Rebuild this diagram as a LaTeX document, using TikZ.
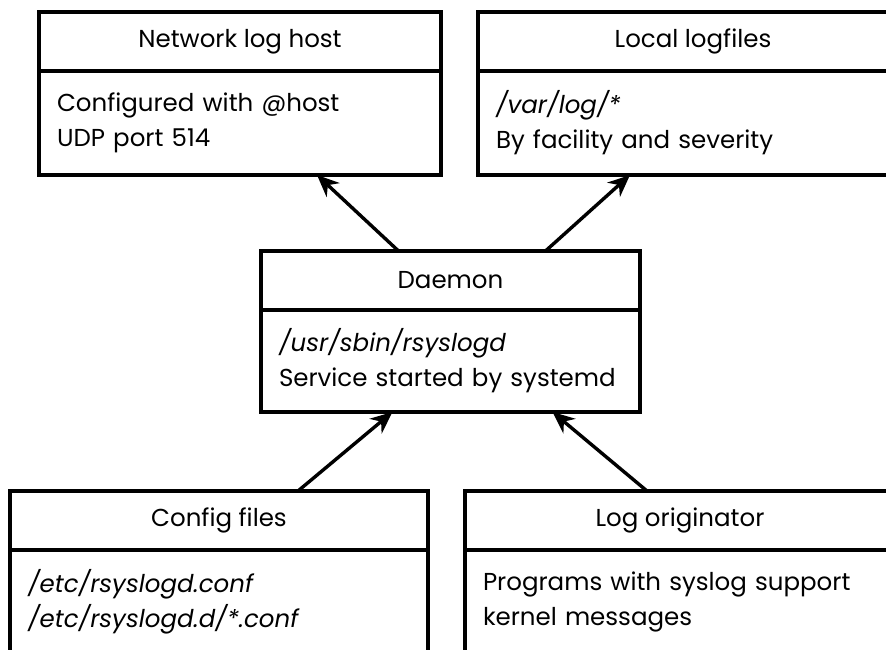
\documentclass[tikz,border=0pt]{standalone}
\usepackage{fontspec}
\setmainfont{Poppins}
\usetikzlibrary{arrows.meta,positioning}

\begin{document}
\begin{tikzpicture}[x=1pt,y=-1pt,>={Stealth[length=22pt,width=19pt]},line width=3.4pt]
\tikzstyle{head}=[draw=black,rectangle,outer sep=0pt,minimum height=59pt,font=\fontsize{24.5}{35}\selectfont]
\tikzstyle{body}=[draw=black,rectangle,outer sep=0pt,minimum height=104pt,inner xsep=18pt,align=left,font=\fontsize{24.5}{35}\selectfont]
\useasboundingbox (0,0) rectangle (886,650);
% top row
\node[head,minimum width=402pt,anchor=north west] (neth) at (39,12) {Network log host};
\node[body,minimum width=402pt,text width=366pt] (netb) [below=0pt of neth] {Configured with @host\\UDP port 514};
\node[head,minimum width=430pt,anchor=north west] (loch) at (478,12) {Local logfiles};
\node[body,minimum width=430pt,text width=394pt] (locb) [below=0pt of loch] {\textit{/var/log/*}\\By facility and severity};
% daemon
\node[head,minimum width=379pt,anchor=north west] (daeh) at (261,251) {Daemon};
\node[body,minimum width=379pt,text width=343pt,minimum height=102pt] (daeb) [below=0pt of daeh] {\textit{/usr/sbin/rsyslogd}\\Service started by systemd};
% bottom row
\node[head,minimum width=418pt,anchor=north west] (cfgh) at (10,491) {Config files};
\node[body,minimum width=418pt,text width=382pt] (cfgb) [below=0pt of cfgh] {\textit{/etc/rsyslogd.conf}\\\textit{/etc/rsyslogd.d/*.conf}};
\node[head,minimum width=430pt,anchor=north west] (orih) at (465,491) {Log originator};
\node[body,minimum width=430pt,text width=394pt] (orib) [below=0pt of orih] {Programs with syslog support\\kernel messages};
% arrows
\draw[->] ([xshift=-52pt]daeh.north) -- ([xshift=77pt]netb.south);
\draw[->] ([xshift=95pt]daeh.north) -- ([xshift=-63pt]locb.south);
\draw[->] ([xshift=79pt]cfgh.north) -- ([xshift=-58pt]daeb.south);
\draw[->] ([xshift=-33pt]orih.north) -- ([xshift=102pt]daeb.south);
\end{tikzpicture}
\end{document}
